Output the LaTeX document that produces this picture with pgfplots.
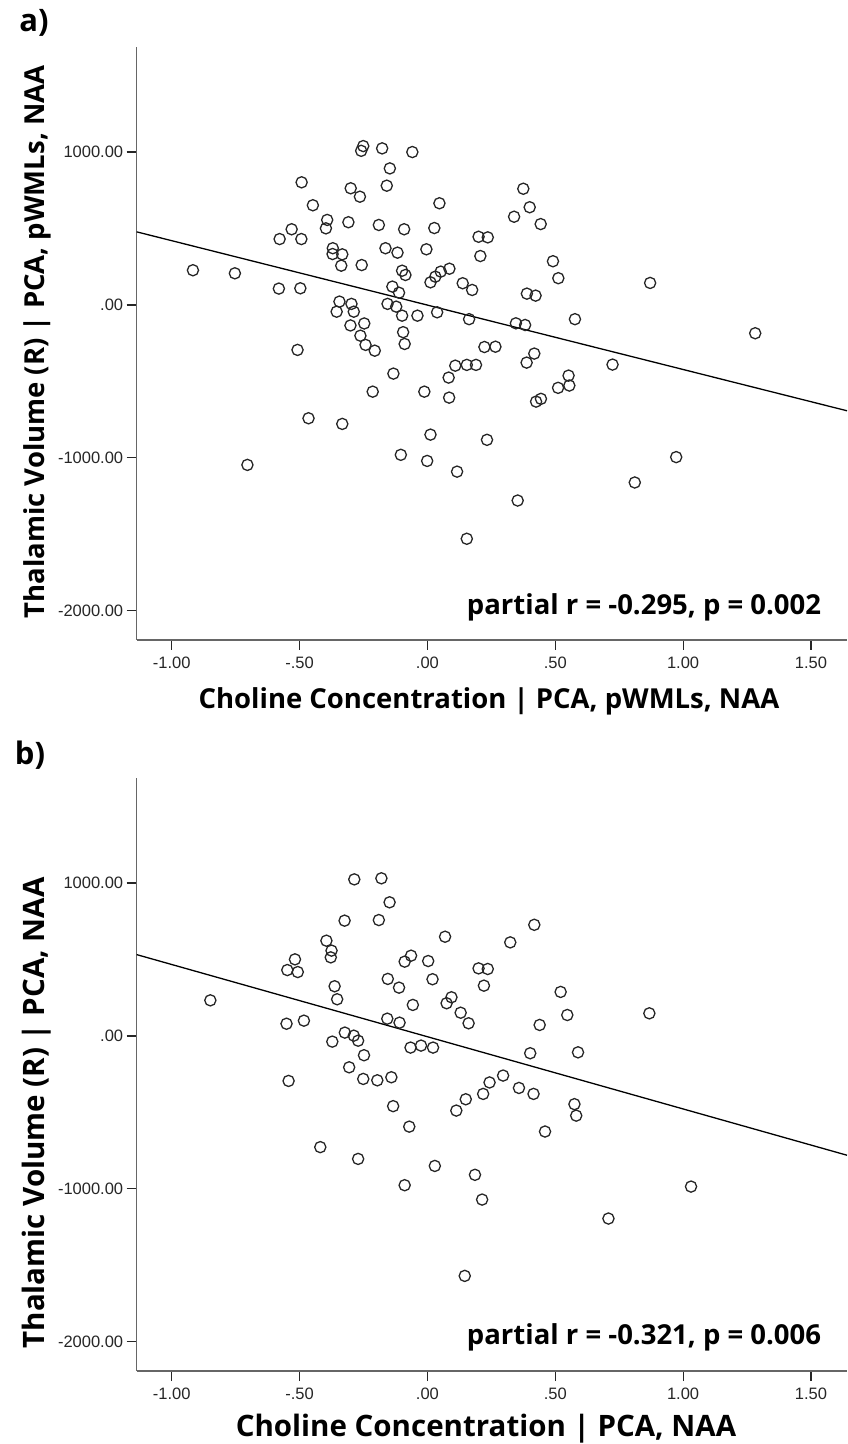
\documentclass[border=0pt]{standalone}
\usepackage{fontspec}
\setmainfont{Open Sans}
\newfontfamily\tickfont{Liberation Sans}
\usepackage{pgfplots}
\pgfplotsset{compat=1.18}
\pgfplotsset{myax/.style={
  scale only axis, width=710.3pt, height=593pt, anchor=south west,
  xmin=-1.137, xmax=1.641, ymin=-2191, ymax=1687,
  axis x line*=bottom, axis y line*=left,
  axis line style={-, draw=black!60, line width=1.2pt},
  tick align=outside, major tick length=10pt,
  tick style={black!85, line width=1.2pt},
  xtick={-1,-0.5,0,0.5,1,1.5},
  xticklabels={-1.00,-.50,.00,.50,1.00,1.50},
  ytick={-2000,-1000,0,1000},
  yticklabels={-2000.00,-1000.00,.00,1000.00},
  ticklabel style={font=\tickfont\fontsize{16.5}{16.5}\selectfont, text=black!85},
  xticklabel style={yshift=-3pt},
  clip=false,
}}
\tikzset{pt/.style={only marks, mark=o, mark size=5.6pt, mark options={line width=1.3pt, draw=black!85}}}
\begin{document}
\begin{tikzpicture}[x=1pt,y=1pt]
\useasboundingbox (0,0) rectangle (847,1444);
% ---------------- panel a
\begin{axis}[myax, at={(136.7pt,804pt)}]
\addplot[pt] table {
x y
-0.251 1039
-0.259 1008
-0.177 1024
-0.059 1000
-0.147 893
-0.492 802
-0.300 763
-0.264 708
-0.159 780
0.047 665
-0.448 652
-0.392 556
-0.397 501
-0.309 541
-0.190 523
-0.091 495
0.027 503
0.200 446
0.236 442
-0.531 495
-0.578 431
-0.493 431
-0.370 371
-0.371 333
-0.333 331
-0.337 257
-0.257 261
-0.164 371
-0.117 342
-0.004 364
0.207 320
-0.099 224
-0.086 196
0.052 218
0.086 237
0.031 185
0.012 148
0.138 142
0.175 98
-0.917 227
-0.753 207
-0.581 107
-0.497 109
-0.137 120
-0.111 80
-0.344 22
-0.297 7
-0.355 -44
-0.288 -44
-0.156 7
-0.122 -11
-0.099 -70
-0.039 -70
0.038 -48
0.163 -93
-0.301 -134
-0.247 -121
-0.095 -178
-0.262 -201
-0.242 -261
-0.206 -299
-0.089 -255
-0.508 -294
0.223 -275
0.266 -273
-0.133 -449
0.109 -397
0.154 -392
0.190 -392
0.083 -475
-0.214 -567
-0.012 -567
0.085 -606
-0.465 -741
-0.333 -778
0.012 -848
0.233 -882
-0.104 -980
-0.001 -1020
0.116 -1090
-0.704 -1046
0.154 -1529
0.375 760
0.400 639
0.339 577
0.443 529
0.491 286
0.512 175
0.871 144
0.389 74
0.423 61
0.346 -120
0.382 -131
0.577 -93
1.282 -185
0.418 -318
0.388 -377
0.552 -462
0.511 -542
0.555 -527
0.724 -390
0.425 -632
0.444 -614
0.973 -995
0.811 -1161
0.353 -1279
};
\addplot[black, line width=1.3pt] coordinates {(-1.137,478) (1.641,-692)};
\end{axis}
% ---------------- panel b
\begin{axis}[myax, at={(136.7pt,73pt)}]
\addplot[pt] table {
x y
-0.286 1024
-0.180 1031
-0.148 874
-0.324 754
-0.190 758
0.069 649
-0.395 623
-0.375 558
-0.378 514
-0.518 501
-0.548 431
-0.507 418
-0.064 525
-0.089 486
0.003 490
0.200 442
0.236 438
-0.155 373
-0.111 316
0.020 371
0.221 329
-0.363 325
-0.353 240
-0.849 233
-0.057 203
0.094 253
0.075 214
0.130 152
0.161 83
-0.551 80
-0.483 100
-0.157 113
-0.109 87
-0.323 22
-0.288 2
-0.271 -31
-0.372 -37
-0.066 -76
-0.025 -63
0.022 -76
-0.248 -126
-0.306 -205
-0.543 -294
-0.251 -281
-0.196 -290
-0.141 -270
0.243 -304
0.218 -379
0.150 -414
0.113 -488
-0.134 -459
-0.071 -593
-0.419 -727
-0.271 -804
0.029 -850
0.186 -908
-0.089 -976
0.214 -1070
0.146 -1569
0.418 727
0.324 612
0.521 288
0.547 137
0.868 148
0.439 72
0.402 -113
0.589 -107
0.296 -259
0.358 -340
0.415 -379
0.575 -446
0.582 -521
0.460 -625
1.031 -985
0.708 -1194
};
\addplot[black, line width=1.3pt] coordinates {(-1.137,532) (1.641,-780)};
\end{axis}
% ---------------- text
\node[font=\bfseries\fontsize{31}{31}\selectfont] at (34,1421) {a)};
\node[font=\bfseries\fontsize{31}{31}\selectfont] at (30,689) {b)};
\node[font=\bfseries\fontsize{27.5}{27.5}\selectfont, rotate=90] at (37,1102) {Thalamic Volume (R) | PCA, pWMLs, NAA};
\node[font=\bfseries\fontsize{29.5}{29.5}\selectfont, rotate=90] at (37,331) {Thalamic Volume (R) | PCA, NAA};
\node[font=\bfseries\fontsize{27.5}{27.5}\selectfont] at (489,743) {Choline Concentration | PCA, pWMLs, NAA};
\node[font=\bfseries\fontsize{29.5}{29.5}\selectfont] at (486,15) {Choline Concentration | PCA, NAA};
\node[font=\bfseries\fontsize{27.5}{27.5}\selectfont] at (644,837) {partial r = -0.295, p = 0.002};
\node[font=\bfseries\fontsize{27.5}{27.5}\selectfont] at (644,107) {partial r = -0.321, p = 0.006};
\end{tikzpicture}
\end{document}
